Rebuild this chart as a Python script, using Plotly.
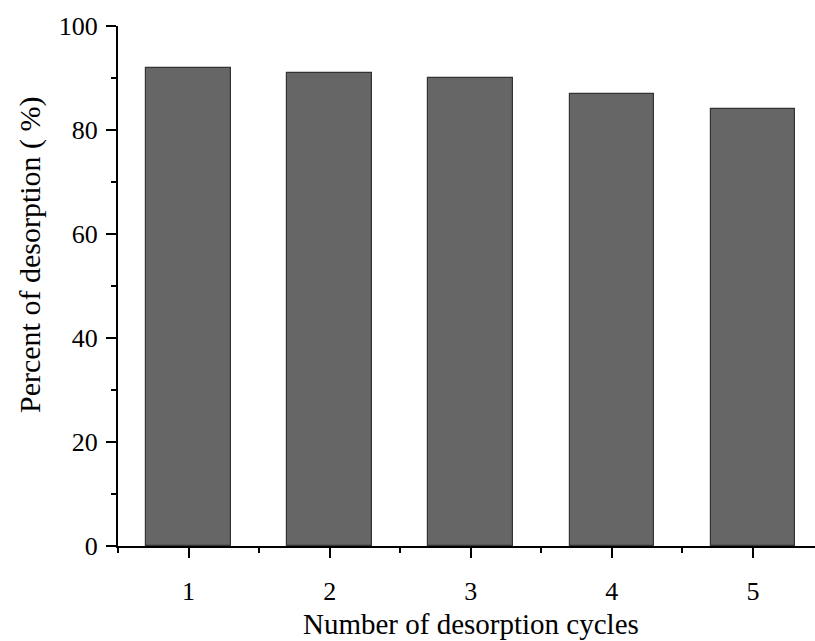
import plotly.graph_objects as go

cycles = [1, 2, 3, 4, 5]
desorption = [92, 91, 90, 87, 84]
x_title = "Number of desorption cycles"
y_title = "Percent of desorption ( %)"

font_family = "Liberation Serif, Times New Roman, serif"

fig = go.Figure()
fig.add_trace(go.Bar(
    x=cycles, y=desorption, width=0.6,
    marker=dict(color="#666666", line=dict(color="#333333", width=1.2)),
))

fig.update_layout(
    width=815, height=641,
    margin=dict(l=118, r=0, t=26, b=95),
    plot_bgcolor="white", paper_bgcolor="white",
    font=dict(family=font_family, size=26, color="black"),
    showlegend=False,
    bargap=0,
)
fig.update_xaxes(
    range=[0.5, 5.44], tickmode="array", tickvals=cycles, ticktext=[str(c) for c in cycles],
    showline=True, linecolor="black", linewidth=2,
    ticks="outside", ticklen=10, tickwidth=2, tickcolor="black",
    minor=dict(tickmode="array", tickvals=[0.5, 1.5, 2.5, 3.5, 4.5], ticks="outside", ticklen=5, tickwidth=2, tickcolor="black"),
    showgrid=False, zeroline=False,
    tickfont=dict(size=26),
    ticklabelstandoff=11,
)
fig.update_yaxes(
    range=[0, 100], tickvals=[0, 20, 40, 60, 80, 100],
    showline=True, linecolor="black", linewidth=2,
    ticks="outside", ticklen=10, tickwidth=2, tickcolor="black",
    minor=dict(tickvals=[10, 30, 50, 70, 90], ticks="outside", ticklen=5, tickwidth=2, tickcolor="black"),
    showgrid=False, zeroline=False,
    tickfont=dict(size=26),
    ticklabelstandoff=3,
)
fig.add_annotation(
    text=x_title, xref="paper", yref="paper",
    x=(471 - 118) / 697, y=-(641 - 546) / 520, xanchor="center", yanchor="bottom",
    showarrow=False, font=dict(size=29), borderpad=0,
)
fig.add_annotation(
    text=y_title, xref="paper", yref="paper", textangle=-90,
    x=-(118 - 30) / 697, y=(546 - 255) / 520, xanchor="center", yanchor="middle",
    showarrow=False, font=dict(size=30),
)

fig.write_html("out.html")
